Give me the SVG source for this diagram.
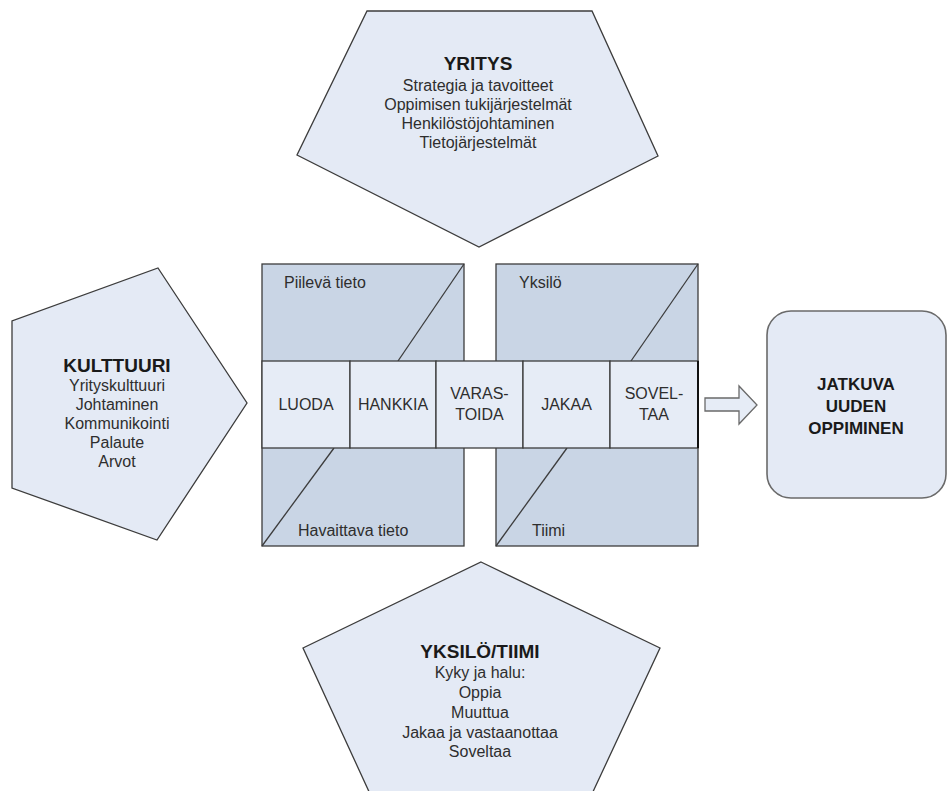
<svg xmlns="http://www.w3.org/2000/svg" width="948" height="791" viewBox="0 0 948 791">
  <style>
    .penta { fill: #e4eaf5; stroke: #3c3c3c; stroke-width: 1.3; }
    .quad { fill: #c9d5e5; stroke: #3c3c3c; stroke-width: 1.3; }
    .cell { fill: #e6ecf6; stroke: #3c3c3c; stroke-width: 1.3; }
    .diag { stroke: #3c3c3c; stroke-width: 1.3; fill: none; }
    .goal { fill: #e4eaf5; stroke: #6a6a6a; stroke-width: 1.6; }
    .arrow { fill: #e6ecf6; stroke: #6a6a6a; stroke-width: 1.3; }
    text { font-family: "Liberation Sans", Arial, sans-serif; fill: #2e2e2e; }
    .title { font-size: 19px; font-weight: bold; text-anchor: middle; fill: #1a1a1a; }
    .item { font-size: 16px; text-anchor: middle; }
    .lbl { font-size: 16px; }
    .step { font-size: 16px; text-anchor: middle; }
    .goaltxt { font-size: 17px; font-weight: bold; text-anchor: middle; fill: #1a1a1a; }
  </style>

  <!-- Yritys (top) -->
  <g id="yritys">
    <polygon class="penta" points="367,11 592,11 658,156 479,247 297,155"/>
    <text class="title" x="478" y="70">YRITYS</text>
    <text class="item" x="478" y="91">Strategia ja tavoitteet</text>
    <text class="item" x="478" y="110">Oppimisen tukijärjestelmät</text>
    <text class="item" x="478" y="129">Henkilöstöjohtaminen</text>
    <text class="item" x="478" y="148">Tietojärjestelmät</text>
  </g>

  <!-- Kulttuuri (left) -->
  <g id="kulttuuri">
    <polygon class="penta" points="158,268 247,403 157,540 12,488 12,321"/>
    <text class="title" x="117" y="372">KULTTUURI</text>
    <text class="item" x="117" y="391">Yrityskulttuuri</text>
    <text class="item" x="117" y="410">Johtaminen</text>
    <text class="item" x="117" y="429">Kommunikointi</text>
    <text class="item" x="117" y="448">Palaute</text>
    <text class="item" x="117" y="467">Arvot</text>
  </g>

  <!-- Yksilö/Tiimi (bottom) -->
  <g id="yksilo-tiimi">
    <polygon class="penta" points="481,562 660,648 591,796 371,796 303,648"/>
    <text class="title" x="480" y="658">YKSILÖ/TIIMI</text>
    <text class="item" x="480" y="678">Kyky ja halu:</text>
    <text class="item" x="480" y="698">Oppia</text>
    <text class="item" x="480" y="718">Muuttua</text>
    <text class="item" x="480" y="738">Jakaa ja vastaanottaa</text>
    <text class="item" x="480" y="757">Soveltaa</text>
  </g>

  <!-- Knowledge matrix: two shaded panels -->
  <g id="tieto-paneeli">
    <rect class="quad" x="262" y="264" width="202" height="282"/>
    <line class="diag" x1="464" y1="264" x2="398" y2="361"/>
    <line class="diag" x1="334" y1="448" x2="262" y2="546"/>
    <text class="lbl" x="284" y="288">Piilevä tieto</text>
    <text class="lbl" x="298" y="536">Havaittava tieto</text>
  </g>
  <g id="toimija-paneeli">
    <rect class="quad" x="496" y="264" width="202" height="282"/>
    <line class="diag" x1="698" y1="264" x2="631" y2="361"/>
    <line class="diag" x1="567" y1="448" x2="496" y2="546"/>
    <text class="lbl" x="519" y="288">Yksilö</text>
    <text class="lbl" x="532" y="536">Tiimi</text>
  </g>

  <!-- Process steps -->
  <g id="luoda">
    <rect class="cell" x="262" y="361" width="88" height="87"/>
    <text class="step" x="306" y="410">LUODA</text>
  </g>
  <g id="hankkia">
    <rect class="cell" x="350" y="361" width="86" height="87"/>
    <text class="step" x="393" y="410">HANKKIA</text>
  </g>
  <g id="varastoida">
    <rect class="cell" x="436" y="361" width="87" height="87"/>
    <text class="step" x="479.5" y="399">VARAS-</text>
    <text class="step" x="479.5" y="420">TOIDA</text>
  </g>
  <g id="jakaa">
    <rect class="cell" x="523" y="361" width="87" height="87"/>
    <text class="step" x="566.5" y="410">JAKAA</text>
  </g>
  <g id="soveltaa">
    <rect class="cell" x="610" y="361" width="88" height="87"/>
    <text class="step" x="654" y="399">SOVEL-</text>
    <text class="step" x="654" y="420">TAA</text>
  </g>
  <line x1="698" y1="361" x2="698" y2="448" stroke="#111" stroke-width="2"/>

  <!-- Connector -->
  <g id="connectors">
    <polygon class="arrow" points="705,398 739,398 739,386 757,405 739,424 739,411 705,411"/>
  </g>

  <!-- Outcome -->
  <g id="jatkuva-oppiminen">
    <rect class="goal" x="767" y="311" width="179" height="187" rx="24" ry="24"/>
    <text class="goaltxt" x="856" y="390">JATKUVA</text>
    <text class="goaltxt" x="856" y="412">UUDEN</text>
    <text class="goaltxt" x="856" y="434">OPPIMINEN</text>
  </g>
</svg>
